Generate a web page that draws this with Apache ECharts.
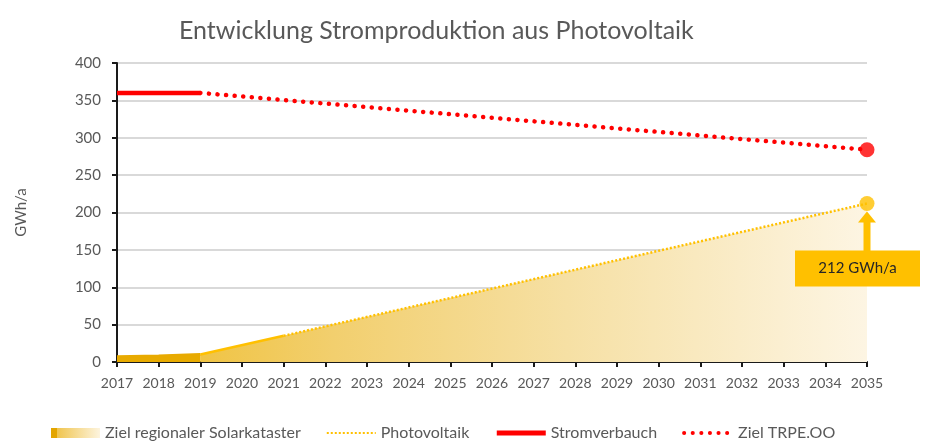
<!DOCTYPE html>
<html>
<head>
<meta charset="utf-8">
<script src="https://cdn.jsdelivr.net/npm/echarts@6/dist/echarts.min.js"></script>
<style>
  html, body { margin: 0; padding: 0; background: #fff; }
  #main { width: 931px; height: 442px; }
</style>
</head>
<body>
<div id="main"></div>
<script>
// Werte
const pvYears = [2017, 2018, 2019, 2021, 2035]
const pvValues = [7, 8, 10, 35, 212]
const stromYears = [2017, 2019]
const stromValues = [360, 360]
const zielYears = [2019, 2035]
const zielValues = [360, 284]
const legendNames = ['Ziel regionaler Solarkataster', 'Photovoltaik', 'Stromverbauch', 'Ziel TRPE.OO']
const targetLabel = '212 GWh/a'

const font = 'Lato'
const grey = '#595959'
const gold = '#ffc000'
const red = '#ff0000'

function pairs(xs, ys, from, to) {
    let out = []
    for (let i = from; i <= to; i++) out.push([xs[i], ys[i]])
    return out
}
const last = pvYears.length - 1

var myChart = echarts.init(document.getElementById('main'))

var option = {
    animation: false,
    title: {
        text: 'Entwicklung Stromproduktion aus Photovoltaik',
        left: 174,
        top: 13,
        textStyle: { fontFamily: font, fontSize: 25, fontWeight: 'normal', color: grey }
    },
    grid: { left: 117, right: 64, top: 63, bottom: 80 },
    legend: {
        left: 46,
        top: 420,
        itemWidth: 49,
        itemHeight: 10,
        itemGap: 25,
        textStyle: { fontFamily: font, fontSize: 16, color: grey },
        data: [
            {
                name: legendNames[0],
                icon: 'rect',
                itemStyle: {
                    color: new echarts.graphic.LinearGradient(0, 0, 1, 0, [
                        { offset: 0, color: '#e3a500' },
                        { offset: 0.12, color: '#e3a500' },
                        { offset: 0.13, color: '#f0c550' },
                        { offset: 1, color: '#fdf4de' }
                    ])
                }
            },
            { name: legendNames[1], itemStyle: { opacity: 0 }, lineStyle: { color: gold, width: 2, type: [2, 2] } },
            { name: legendNames[2], itemStyle: { opacity: 0 }, lineStyle: { color: red, width: 5, type: 'solid' } },
            { name: legendNames[3], itemStyle: { opacity: 0 }, lineStyle: { color: red, width: 4, type: [0.1, 8.5], cap: 'round' } }
        ]
    },
    xAxis: {
        type: 'value',
        min: 2017,
        max: 2035,
        interval: 1,
        axisLine: { lineStyle: { color: '#1a1a1a', width: 2 } },
        axisTick: { show: true, length: 5, lineStyle: { color: '#1a1a1a', width: 2 } },
        axisLabel: { fontFamily: font, fontSize: 14, color: grey, margin: 14, formatter: v => String(v) },
        splitLine: { show: false }
    },
    yAxis: {
        type: 'value',
        min: 0,
        max: 400,
        interval: 50,
        name: 'GWh/a',
        nameLocation: 'middle',
        nameGap: 88,
        nameTextStyle: { fontFamily: font, fontSize: 15, color: grey },
        axisLine: { show: true, lineStyle: { color: '#1a1a1a', width: 2 } },
        axisTick: { show: true, length: 5, lineStyle: { color: '#1a1a1a', width: 2 } },
        axisLabel: { fontFamily: font, fontSize: 15, color: grey, margin: 16 },
        splitLine: { lineStyle: { color: '#d9d9d9', width: 2 } }
    },
    series: [
        {
            name: legendNames[0],
            type: 'line',
            symbol: 'none',
            data: pairs(pvYears, pvValues, 2, 2).concat([[pvYears[last], pvValues[last]]]),
            lineStyle: { width: 0 },
            areaStyle: {
                opacity: 1,
                color: new echarts.graphic.LinearGradient(0, 0, 1, 0, [
                    { offset: 0, color: '#f0c445' },
                    { offset: 0.2, color: '#f2cf6e' },
                    { offset: 0.55, color: '#f6e0a4' },
                    { offset: 1, color: '#fdf5e3' }
                ])
            },
            z: 1
        },
        {
            name: 'Bestand',
            type: 'line',
            symbol: 'none',
            data: pairs(pvYears, pvValues, 0, 2),
            lineStyle: { color: '#e8aa00', width: 3 },
            areaStyle: { color: '#e8ab00', opacity: 1 },
            z: 2
        },
        {
            name: 'Trend',
            type: 'line',
            symbol: 'none',
            data: pairs(pvYears, pvValues, 2, 3),
            lineStyle: { color: gold, width: 2.5 },
            z: 3
        },
        {
            name: legendNames[1],
            type: 'line',
            symbol: 'none',
            color: gold,
            data: pairs(pvYears, pvValues, 3, last),
            lineStyle: { color: gold, width: 2.5, type: [2, 2] },
            z: 3
        },
        {
            name: legendNames[2],
            type: 'line',
            symbol: 'none',
            color: red,
            data: pairs(stromYears, stromValues, 0, 1),
            lineStyle: { color: red, width: 4.5 },
            z: 4
        },
        {
            name: legendNames[3],
            type: 'line',
            symbol: 'none',
            color: red,
            data: pairs(zielYears, zielValues, 0, 1),
            lineStyle: { color: red, width: 4.5, type: [0.1, 8.5], cap: 'round' },
            z: 4
        },
        {
            name: 'Endpunkte',
            type: 'scatter',
            symbolSize: 15,
            data: [
                { value: [zielYears[1], zielValues[1]], itemStyle: { color: red } },
                { value: [pvYears[last], pvValues[last]], itemStyle: { color: gold } }
            ],
            z: 5
        }
    ]
}
myChart.setOption(option)

// Pfeil und Beschriftung am Zielwert
let p = myChart.convertToPixel({ gridIndex: 0 }, [pvYears[last], pvValues[last]])
myChart.setOption({
    graphic: [
        {
            type: 'polygon',
            z: 100,
            shape: { points: [[p[0] - 9, p[1] + 19], [p[0] + 9, p[1] + 19], [p[0], p[1] + 8]] },
            style: { fill: gold }
        },
        {
            type: 'rect',
            z: 100,
            shape: { x: p[0] - 3.5, y: p[1] + 18, width: 7, height: 30 },
            style: { fill: gold }
        },
        {
            type: 'rect',
            z: 100,
            shape: { x: p[0] - 72, y: p[1] + 47, width: 125, height: 36 },
            style: { fill: gold }
        },
        {
            type: 'text',
            z: 101,
            x: p[0] - 9.5,
            y: p[1] + 65,
            style: {
                text: targetLabel, fontFamily: font, fontSize: 15, fill: '#262626',
                align: 'center', verticalAlign: 'middle'
            }
        }
    ]
})
</script>
</body>
</html>
